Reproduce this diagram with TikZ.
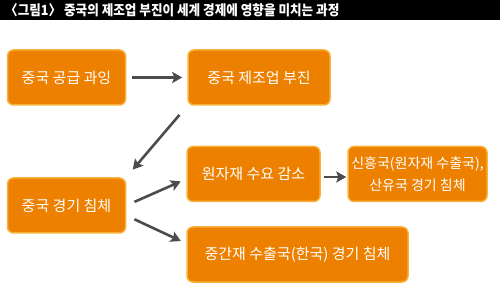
\documentclass[tikz,border=0pt]{standalone}
\usepackage{fontspec}
\setmainfont{Noto Sans CJK KR}
\usetikzlibrary{arrows.meta,calc}
\definecolor{boxOrange}{HTML}{EE8000}
\definecolor{boxEdge}{HTML}{F8B23A}
\colorlet{arrowGray}{black!70}

\tikzset{
  stepbox/.style={draw=boxEdge, line width=1.5pt, fill=boxOrange, rounded corners=6pt,
    text=white, align=center, font=\fontsize{15}{22}\selectfont, inner sep=0pt},
  flow/.style={-{Stealth[length=10pt,width=11pt,inset=2pt]}, arrowGray, line width=2.6pt}
}

\begin{document}
\begin{tikzpicture}[x=1pt, y=-1pt]
        \useasboundingbox (0,0) rectangle (500,288);
        \fill[black] (0,0) rectangle (500,20);
        \node[anchor=west, text=white, inner sep=0pt] (title) at (5,10)
          {\scalebox{0.9}[1]{\fontsize{14}{14}\selectfont\bfseries 〈그림1〉 중국의 제조업 부진이 세계 경제에 영향을 미치는 과정}};

        \node[stepbox, minimum width=118pt, minimum height=55pt] (supply) at (66.5,77.5) {중국 공급 과잉};
        \node[stepbox, minimum width=142pt, minimum height=55pt] (maker) at (259,77.5) {중국 제조업 부진};
        \node[stepbox, minimum width=118pt, minimum height=55pt] (slow) at (66.5,205.5) {중국 경기 침체};
        \node[stepbox, minimum width=133pt, minimum height=55pt] (demand) at (253.5,174) {원자재 수요 감소};
        \node[stepbox, minimum width=139pt, minimum height=55pt, font=\fontsize{14}{22}\selectfont] (export) at (417.5,174)
          {신흥국(원자재 수출국),\\산유국 경기 침체};
        \node[stepbox, minimum width=221pt, minimum height=55pt] (korea) at (297.5,254.5)
          {중간재 수출국(한국) 경기 침체};

        \draw[flow, shorten <=6pt, shorten >=5pt] (supply) -- (maker);
        \draw[flow, shorten <=12pt, shorten >=10pt] (maker.south west) -- (slow.north east);
        \draw[flow, shorten <=9pt, shorten >=6pt] (slow.east) -- ([yshift=-5pt]demand.west);
        \draw[flow, shorten <=9pt, shorten >=6pt] ([yshift=-10pt]slow.east) -- ([yshift=11pt]korea.west);
        \draw[flow, shorten <=3pt, shorten >=1pt] ([yshift=-3pt]demand.east) -- ([yshift=-3pt]export.west);
    \end{tikzpicture}
\end{document}
